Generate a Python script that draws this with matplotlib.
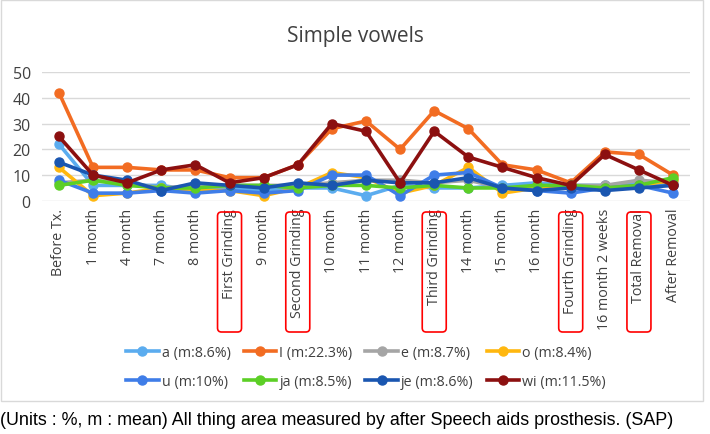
import matplotlib.pyplot as plt
from matplotlib.patches import FancyBboxPatch, Rectangle
from matplotlib.transforms import IdentityTransform

# categories on the x axis
categories = ["Before Tx.", "1 month", "4 month", "7 month", "8 month",
              "First Grinding", "9 month", "Second Grinding", "10 month",
              "11 month", "12 month", "Third Grinding", "14 month", "15 month",
              "16 month", "Fourth Grinding", "16 month 2 weeks", "Total Removal",
              "After Removal"]
boxed = ["First Grinding", "Second Grinding", "Third Grinding",
         "Fourth Grinding", "Total Removal"]

# values (%)
a_vals = [22, 6, 6, 6, 4, 5, 4, 5, 5, 2, 6, 5, 5, 6, 7, 6, 6, 7, 6]
i_vals = [42, 13, 13, 12, 12, 9, 9, 14, 28, 31, 20, 35, 28, 14, 12, 7, 19, 18, 10]
e_vals = [7, 8, 7, 5, 6, 6, 6, 6, 7, 8, 8, 7, 8, 5, 5, 6, 6, 8, 7]
o_vals = [13, 2, 3, 5, 4, 4, 2, 5, 11, 9, 3, 6, 13, 3, 5, 5, 5, 6, 8]
u_vals = [8, 3, 3, 4, 3, 4, 3, 4, 10, 10, 2, 10, 11, 5, 4, 3, 5, 6, 3]
ja_vals = [6, 8, 6, 5, 5, 6, 6, 5, 6, 6, 5, 6, 5, 5, 6, 6, 5, 6, 9]
je_vals = [15, 10, 8, 4, 7, 6, 5, 7, 6, 8, 7, 7, 9, 5, 4, 5, 4, 5, 6]
wi_vals = [25, 10, 7, 12, 14, 7, 9, 14, 30, 27, 7, 27, 17, 13, 9, 6, 18, 12, 6]

labels = ["a (m:8.6%)", "I (m:22.3%)", "e (m:8.7%)", "o (m:8.4%)",
          "u (m:10%)", "ja (m:8.5%)", "je (m:8.6%)", "wi (m:11.5%)"]
series = [a_vals, i_vals, e_vals, o_vals, u_vals, ja_vals, je_vals, wi_vals]
colors = ["#5BACEF", "#F26C22", "#A5A5A5", "#FFB70F",
          "#3F7DE8", "#5CCF26", "#1A56B0", "#8C1010"]
# draw order: low lines first, big ones on top
order = [2, 3, 0, 5, 4, 6, 1, 7]

plt.rcParams['font.family'] = ['Open Sans', 'DejaVu Sans']
text_col = "#404040"

fig = plt.figure(figsize=(7.1, 4.35), dpi=100)
ax = fig.add_axes([0.059, 0.536, 0.913, 0.296])

x = list(range(len(categories)))
handles = {}
for k in order:
    h, = ax.plot(x, series[k], color=colors[k], lw=2.6, marker='o',
                 markersize=6.5, label=labels[k], zorder=3 + k * 0.1)
    handles[k] = h

ax.set_xlim(-0.5, len(categories) - 0.5)
ax.set_ylim(0, 50)
ax.set_yticks(range(0, 51, 10))
ax.grid(axis='y', color="#D9D9D9", lw=1)
ax.set_axisbelow(True)
for s in ax.spines.values():
    s.set_visible(False)
ax.tick_params(length=0, colors=text_col)
ax.tick_params(axis='y', labelsize=11.5, pad=8)
ax.set_xticks(x)
ax.set_xticklabels(categories, rotation=90, fontsize=10.3, color=text_col)
ax.tick_params(axis='x', pad=5)

fig.suptitle("Simple vowels", y=0.94, fontsize=15, color=text_col)

# legend is filled column by column, so interleave to get row order
leg_order = [0, 4, 1, 5, 2, 6, 3, 7]
leg = ax.legend([handles[k] for k in leg_order], [labels[k] for k in leg_order],
                ncol=4, loc='upper center', bbox_to_anchor=(0.5, -1.02),
                frameon=False, fontsize=10.3, handlelength=2.3,
                columnspacing=0.9, handletextpad=0.2, labelspacing=0.95)
for t in leg.get_texts():
    t.set_color(text_col)

# red rounded boxes around the treatment events
H = 435
for name in boxed:
    idx = categories.index(name)
    px = ax.transData.transform((idx, 0))[0]
    fig.add_artist(FancyBboxPatch((px - 12, H - 333), 24, 120,
                                  boxstyle="round,pad=0,rounding_size=4",
                                  ec="#FF0000", fc="none", lw=1.2,
                                  transform=IdentityTransform()))

# chart frame
fig.add_artist(Rectangle((0.001, 1 - 402 / H), 0.989, 402 / H - 0.002,
                         transform=fig.transFigure, fill=False,
                         ec="#D9D9D9", lw=1))

fig.text(0.0, 1 - 421 / H, "(Units : %, m : mean) All thing area measured by "
         "after Speech aids prosthesis. (SAP)", fontsize=12.9,
         family="Liberation Sans", va='center', ha='left', color="black")

fig.savefig("out.png", dpi=100)
